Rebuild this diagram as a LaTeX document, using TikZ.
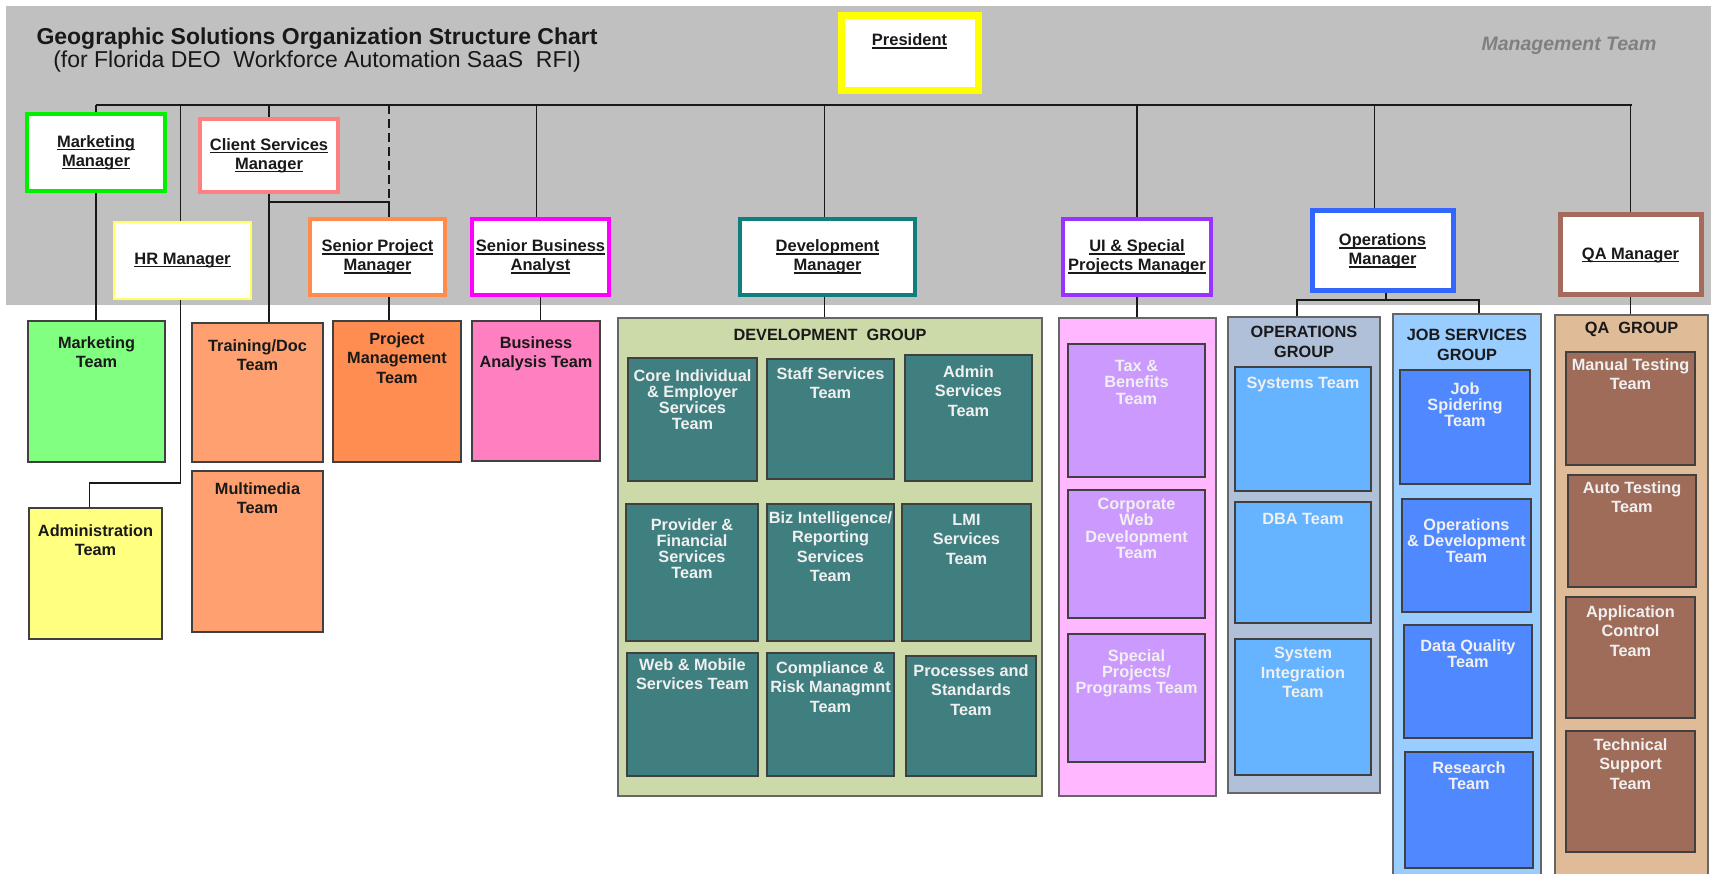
\documentclass[tikz,border=0pt]{standalone}
\usepackage{fontspec}
\setmainfont{Liberation Sans}
\usetikzlibrary{calc}

\definecolor{band}{HTML}{C0C0C0}
\definecolor{presyellow}{HTML}{FFFF00}
\definecolor{mkgreen}{HTML}{00F000}
\definecolor{cssalmon}{HTML}{FF8080}
\definecolor{hryellow}{HTML}{FFFF66}
\definecolor{spmorange}{HTML}{FF8C4C}
\definecolor{sbamagenta}{HTML}{FF00FF}
\definecolor{devteal}{HTML}{0E7F7A}
\definecolor{uipurple}{HTML}{9933FF}
\definecolor{opsblue}{HTML}{3366FF}
\definecolor{qabrown}{HTML}{A46B5C}
\definecolor{mkfill}{HTML}{80FF80}
\definecolor{admfill}{HTML}{FFFF80}
\definecolor{trnfill}{HTML}{FFA070}
\definecolor{pmtfill}{HTML}{FF8C50}
\definecolor{bafill}{HTML}{FF80C0}
\definecolor{devgrn}{HTML}{CCDAAA}
\definecolor{tealfill}{HTML}{407F7F}
\definecolor{uipink}{HTML}{FFB8FF}
\definecolor{lilac}{HTML}{CC99FF}
\definecolor{opsgray}{HTML}{B0C0D8}
\definecolor{skyfill}{HTML}{66B3FF}
\definecolor{jobsky}{HTML}{99CCFF}
\definecolor{jobblue}{HTML}{5088FF}
\definecolor{qatan}{HTML}{DFBB97}
\definecolor{qafill}{HTML}{A06C5A}

\newcommand\teamfont{\fontsize{16.3}{19.5}\selectfont\bfseries}
\newcommand\tightfont{\fontsize{16.3}{16.3}\selectfont\bfseries}
\newcommand\mgrfont{\fontsize{16.5}{19}\selectfont\bfseries}
\newcommand\undl[1]{\setbox0\hbox{#1}\rlap{\rule[-3pt]{\wd0}{1.4pt}}\box0}

\tikzset{
  mgr/.style={draw, fill=white, line width=4pt, font=\mgrfont, align=center, inner sep=2pt, text=black!90},
  unit/.style={draw=black!75, line width=2pt, inner sep=0pt},
  grp/.style={draw=black!60, line width=2pt, inner sep=0pt},
  darklbl/.style={font=\teamfont, text=black!90, align=center, inner sep=0pt},
  lightlbl/.style={font=\teamfont, text=white!94!black, align=center, inner sep=0pt},
  tightlbl/.style={lightlbl, font=\tightfont},
  preslbl/.style={font=\mgrfont, text=black!90, inner sep=0pt},
  link/.style={line width=1.6pt, draw=black!90},
  dashlink/.style={link, dash pattern=on 9pt off 5pt},
}

% box from its two corners, text hung from the top
\def\unitbox[#1][#2](#3)(#4,#5)(#6,#7)#8#9{\node[#1, minimum width=#6pt-#4pt-2pt, minimum height=#7pt-#5pt-2pt, label={[#2, anchor=north, yshift=-#8pt]north:{#9}}] (#3) at ({(#4+#6)/2},{(#5+#7)/2}) {};}
% manager box from its two corners, text centred
\def\mgrbox[#1](#2)(#3,#4)(#5,#6)#7{\node[mgr, #1, minimum width=#5pt-#3pt-4pt, minimum height=#6pt-#4pt-4pt] (#2) at ({(#3+#5)/2},{(#4+#6)/2}) {#7};}

\begin{document}
\begin{tikzpicture}[x=1pt, y=-1pt]
	%%%%% START %%%%%
	\useasboundingbox (0,0) rectangle (1711,874);
	
	\fill[band] (6,6) rectangle (1711,305);
	
	\node[align=center, font=\fontsize{23}{23}\selectfont, text=black!90] (title) at (317,50) {\textbf{Geographic Solutions Organization Structure Chart}\\(for Florida DEO\ \ Workforce Automation SaaS\ \ RFI)};
	\node[font=\fontsize{19.5}{20}\selectfont\bfseries\itshape, text=black!50] (mgmt) at (1569,46) {Management Team};
	
	% management team
	\unitbox[mgr, draw=presyellow, line width=7pt][preslbl](pres)(840,15)(979,92){21}{\undl{President}}
	\mgrbox[draw=mkgreen, line width=3.5pt](mm)(25,112)(167,193){\undl{Marketing}\\\undl{Manager}}
	\mgrbox[draw=cssalmon, line width=3.5pt](cs)(198,117)(340,194){\undl{Client Services}\\\undl{Manager}}
	\mgrbox[draw=hryellow, line width=2.5pt](hr)(112,220)(253,301){\undl{HR Manager}}
	\mgrbox[draw=spmorange](spm)(308,217)(447,297){\undl{Senior Project}\\\undl{Manager}}
	\mgrbox[draw=sbamagenta](sba)(470,217)(611,297){\undl{Senior Business}\\\undl{Analyst}}
	\mgrbox[draw=devteal](dev)(738,217)(917,297){\undl{Development}\\\undl{Manager}}
	\mgrbox[draw=uipurple](ui)(1061,217)(1213,297){\undl{UI \& Special}\\\undl{Projects Manager}}
	\mgrbox[draw=opsblue, line width=5pt](ops)(1310,209)(1455,293){\undl{Operations}\\\undl{Manager}}
	\mgrbox[draw=qabrown, line width=5pt](qa)(1558,213)(1703,297){\undl{QA Manager}}
	
	% left teams
	\unitbox[unit, fill=mkfill][darklbl](mkt)(27,320)(166,463){16}{Marketing\\Team}
	\unitbox[unit, fill=admfill][darklbl](adm)(28,507)(163,640){17}{Administration\\Team}
	\unitbox[unit, fill=trnfill][darklbl](trn)(191,322)(324,463){17}{Training/Doc\\Team}
	\unitbox[unit, fill=trnfill][darklbl](mmd)(191,470)(324,633){12}{Multimedia\\Team}
	\unitbox[unit, fill=pmtfill][darklbl](pmt)(332,320)(462,463){12}{Project\\Management\\Team}
	\unitbox[unit, fill=bafill][darklbl](bat)(471,320)(601,462){16}{Business\\Analysis Team}
	
	% development group
	\unitbox[grp, fill=devgrn][darklbl](devgrp)(617,317)(1043,797){12}{DEVELOPMENT\ \ GROUP}
	\unitbox[unit, fill=tealfill][tightlbl](core)(627,357)(758,482){12}{Core Individual\\\& Employer\\Services\\Team}
	\unitbox[unit, fill=tealfill][lightlbl](staff)(766,358)(895,480){9}{Staff Services\\Team}
	\unitbox[unit, fill=tealfill][lightlbl](adms)(904,354)(1033,482){11}{Admin\\Services\\Team}
	\unitbox[unit, fill=tealfill][tightlbl](prov)(625,503)(759,642){15}{Provider \&\\Financial\\Services\\Team}
	\unitbox[unit, fill=tealfill][lightlbl](biz)(766,503)(895,642){8}{Biz Intelligence/\\Reporting\\Services\\Team}
	\unitbox[unit, fill=tealfill][lightlbl](lmi)(901,503)(1032,642){11}{LMI\\Services\\Team}
	\unitbox[unit, fill=tealfill][lightlbl](web)(626,652)(759,777){6}{Web \& Mobile\\Services Team}
	\unitbox[unit, fill=tealfill][lightlbl](cmp)(766,652)(895,777){9}{Compliance \&\\Risk Managmnt\\Team}
	\unitbox[unit, fill=tealfill][lightlbl](prc)(905,655)(1037,777){9}{Processes and\\Standards\\Team}
	
	% ui and special projects
	\unitbox[grp, fill=uipink][darklbl](uigrp)(1058,317)(1217,797){0}{}
	\unitbox[unit, fill=lilac][tightlbl](tax)(1067,343)(1206,478){17}{Tax \&\\Benefits\\Team}
	\unitbox[unit, fill=lilac][tightlbl](cwd)(1067,489)(1206,619){9}{Corporate\\Web\\Development\\Team}
	\unitbox[unit, fill=lilac][tightlbl](spp)(1067,633)(1206,763){16}{Special\\Projects/\\Programs Team}
	
	% operations group
	\unitbox[grp, fill=opsgray][darklbl](opsgrp)(1227,316)(1381,794){10}{OPERATIONS\\GROUP}
	\unitbox[unit, fill=skyfill][lightlbl](sys)(1234,366)(1372,492){11}{Systems Team}
	\unitbox[unit, fill=skyfill][lightlbl](dba)(1234,501)(1372,624){12}{DBA Team}
	\unitbox[unit, fill=skyfill][lightlbl](sit)(1234,638)(1372,776){9}{System\\Integration\\Team}
	
	% job services group
	\unitbox[grp, fill=jobsky][darklbl](jobgrp)(1392,313)(1542,890){16}{JOB SERVICES\\GROUP}
	\unitbox[unit, fill=jobblue][tightlbl](jsp)(1399,369)(1531,485){13}{Job\\Spidering\\Team}
	\unitbox[unit, fill=jobblue][tightlbl](odv)(1401,498)(1532,613){20}{Operations\\\& Development\\Team}
	\unitbox[unit, fill=jobblue][tightlbl](dq)(1403,624)(1533,739){15}{Data Quality\\Team}
	\unitbox[unit, fill=jobblue][tightlbl](rsc)(1404,751)(1534,869){10}{Research\\Team}
	
	% qa group
	\unitbox[grp, fill=qatan][darklbl](qagrp)(1554,314)(1709,890){8}{QA\ \ GROUP}
	\unitbox[unit, fill=qafill][lightlbl](man)(1565,351)(1696,466){7}{Manual Testing\\Team}
	\unitbox[unit, fill=qafill][lightlbl](aut)(1567,474)(1697,588){7}{Auto Testing\\Team}
	\unitbox[unit, fill=qafill][lightlbl](app)(1565,596)(1696,719){9}{Application\\Control\\Team}
	\unitbox[unit, fill=qafill][lightlbl](tec)(1565,730)(1696,853){8}{Technical\\Support\\Team}
	
	% connectors
	\coordinate (busL) at (96,105);
	\coordinate (busR) at (1632,105);
	\coordinate (spmjoin) at (389,202);
	\coordinate (opsbar) at (1386,300);
	
	\draw[link] (busL) -- (busR);
	\draw[link] (mm.north) -- (mm.north |- busL);
	\draw[link] ([xshift=-2pt]hr.north) -- ([xshift=-2pt]hr.north |- busL);
	\draw[link] (cs.north) -- (cs.north |- busL);
	\draw[dashlink] (spmjoin |- busL) -- (spmjoin);
	\draw[link] ([xshift=-4pt]sba.north) -- ([xshift=-4pt]sba.north |- busL);
	\draw[link] ([xshift=-3pt]dev.north) -- ([xshift=-3pt]dev.north |- busL);
	\draw[link] (ui.north) -- (ui.north |- busL);
	\draw[link] ([xshift=-8pt]ops.north) -- ([xshift=-8pt]ops.north |- busL);
	\draw[link] (qa.north) -- (qa.north |- busL);
	
	\draw[link] (mm.south) -- (mm.south |- mkt.north);
	\draw[link] ([xshift=-2pt]hr.south) |- ([xshift=-6pt, yshift=24pt]adm.north) -- ([xshift=-6pt]adm.north);
	\draw[link] (cs.south) -- (cs.south |- trn.north);
	\draw[link] (cs.south) |- (spmjoin) -- (spmjoin |- spm.north);
	\draw[link] (spmjoin |- spm.south) -- (spmjoin |- pmt.north);
	\draw[link] (sba.south) -- (sba.south |- bat.north);
	\draw[link] ([xshift=-3pt]dev.south) -- ([xshift=-3pt]dev.south |- devgrp.north);
	\draw[link] (ui.south) -- (ui.south |- uigrp.north);
	\draw[link] (ops.south -| opsbar) -- (opsbar);
	\draw[link] ([xshift=-7pt]opsgrp.north) |- (opsbar) -| ([xshift=12pt]jobgrp.north);
	\draw[link] (qa.south) -- (qa.south |- qagrp.north);
	
	%%%%% END %%%%%
\end{tikzpicture}
\end{document}
